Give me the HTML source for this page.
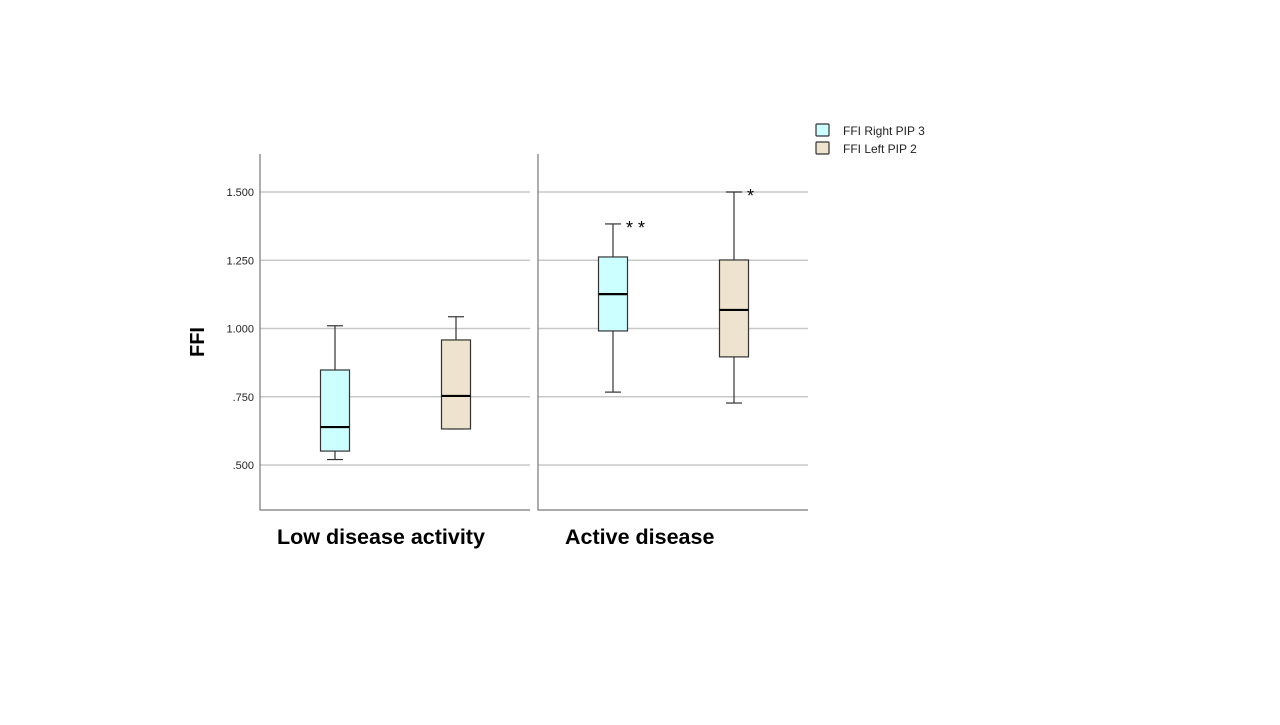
<!DOCTYPE html>
<html><head><meta charset="utf-8"><style>
body{margin:0;background:#fff;width:1280px;height:720px;overflow:hidden;font-family:"Liberation Sans",sans-serif}
</style></head><body>
<svg id="chart" width="1280" height="720" xmlns="http://www.w3.org/2000/svg" font-family="Liberation Sans, sans-serif"></svg>
<script>
const panels = ["Low disease activity", "Active disease"];
const seriesNames = ["FFI Right PIP 3", "FFI Left PIP 2"];
const seriesColors = ["#ccffff", "#ede3cf"];
// [min, q1, median, q3, max] per panel
const right3 = [[0.52, 0.551, 0.639, 0.848, 1.01], [0.767, 0.991, 1.126, 1.262, 1.383]];
const left2 = [[0.632, 0.632, 0.753, 0.958, 1.043], [0.727, 0.896, 1.068, 1.251, 1.5]];
const outlierMarks = [["", ""], ["* *", "*"]];
const ticks = [0.5, 0.75, 1.0, 1.25, 1.5];
const tickLabels = [".500", ".750", "1.000", "1.250", "1.500"];

const svg = document.getElementById('chart');
const NS = 'http://www.w3.org/2000/svg';
function el(tag, attrs, parent) {
  const e = document.createElementNS(NS, tag);
  for (const k in attrs) e.setAttribute(k, attrs[k]);
  (parent || svg).appendChild(e);
  return e;
}
const y = v => 465 - (v - 0.5) * 273;
const panelX = [260, 538], panelW = 270;
const offsets = [75, 196];
const boxW = 29;

ticks.forEach((t, i) => {
  const tx = el('text', {x: 254, y: y(t) + 4, 'text-anchor': 'end', 'font-size': 11, fill: '#222'});
  
  
  tx.textContent = tickLabels[i];
});

const series = [right3, left2];
panels.forEach((p, pi) => {
  const x0 = panelX[pi];
  const g = el('g', {});
  
  
  ticks.forEach(t => {
    const gl = el('line', {x1: x0, x2: x0 + panelW, y1: y(t), y2: y(t), stroke: '#c8c8c8', 'stroke-width': 1.5}, g);
    
    
  });
  const ax = el('polyline', {points: `${x0},154 ${x0},510 ${x0 + panelW},510`, fill: 'none', stroke: '#777', 'stroke-width': 1.2}, g);
  
  
  series.forEach((s, si) => {
    const d = s[pi], cx = x0 + offsets[si];
    const b = el('g', {}, g);
    
    
    el('line', {x1: cx, x2: cx, y1: y(d[4]), y2: y(d[3]), stroke: '#333', 'stroke-width': 1.2}, b);
    el('line', {x1: cx, x2: cx, y1: y(d[1]), y2: y(d[0]), stroke: '#333', 'stroke-width': 1.2}, b);
    el('line', {x1: cx - 8, x2: cx + 8, y1: y(d[4]), y2: y(d[4]), stroke: '#333', 'stroke-width': 1.2}, b);
    el('line', {x1: cx - 8, x2: cx + 8, y1: y(d[0]), y2: y(d[0]), stroke: '#333', 'stroke-width': 1.2}, b);
    el('rect', {x: cx - boxW / 2, y: y(d[3]), width: boxW, height: y(d[1]) - y(d[3]), fill: seriesColors[si], stroke: '#333', 'stroke-width': 1.2}, b);
    el('line', {x1: cx - boxW / 2, x2: cx + boxW / 2, y1: y(d[2]), y2: y(d[2]), stroke: '#000', 'stroke-width': 2.2}, b);
    const m = outlierMarks[pi][si];
    if (m) {
      const t = el('text', {x: cx + 13, y: y(d[4]) + 10, 'font-size': 18, fill: '#000'}, b);
      
      
      t.textContent = m;
    }
  });
  const lab = el('text', {x: pi === 0 ? 277 : 565, y: 544, 'font-size': 21.5, 'font-weight': 'bold', fill: '#000'});
  
  
  lab.textContent = p;
});

const yt = el('text', {x: 0, y: 0, 'font-size': 20, 'font-weight': 'bold', 'text-anchor': 'middle', transform: 'translate(204,342) rotate(-90)'});


yt.textContent = 'FFI';

seriesNames.forEach((n, i) => {
  const g = el('g', {});
  
  
  el('rect', {x: 816, y: 124 + i * 18, width: 13, height: 12, fill: seriesColors[i], stroke: '#333', 'stroke-width': 1.2, rx: 1}, g);
  const t = el('text', {x: 843, y: 135 + i * 18, 'font-size': 12, fill: '#222'}, g);
  t.textContent = n;
});
</script>
</body></html>
